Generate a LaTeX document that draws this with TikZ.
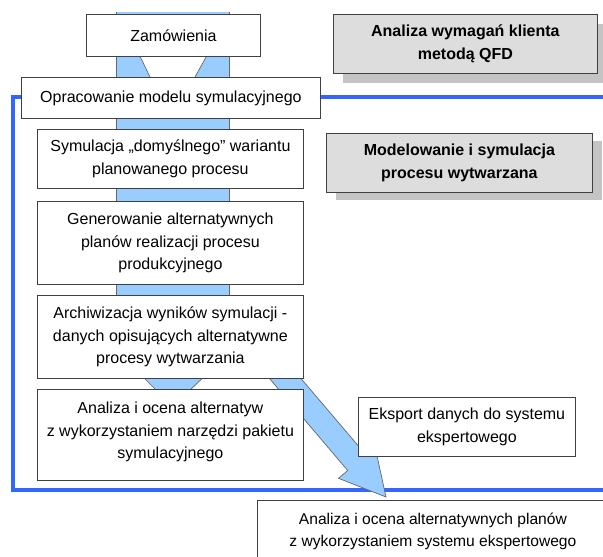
\documentclass[tikz,border=0pt]{standalone}
\usepackage{fontspec}
\setmainfont{Liberation Sans}
\definecolor{bandblue}{HTML}{99CCFF}
\definecolor{frameblue}{HTML}{3366FF}
\definecolor{panelgray}{HTML}{DDDDDD}
\definecolor{shadowgray}{HTML}{C4C4C4}
\begin{document}
\begin{tikzpicture}[x=1pt,y=-1pt,
  stepbox/.style={draw=black!75, line width=0.8pt, fill=white, anchor=north west,
    inner sep=0pt, align=center, font=\fontsize{16}{22.5}\selectfont},
  panel/.style={stepbox, fill=panelgray, font=\fontsize{16}{22.5}\selectfont\bfseries},
  steptext/.style={anchor=north, inner sep=0pt, align=center, font=\fontsize{16}{22.5}\selectfont},
  frameline/.style={draw=frameblue, line width=3.6pt},
  bandfill/.style={fill=bandblue, draw=black!60, line width=0.7pt},
  bandedge/.style={draw=black!60, line width=0.7pt},
]
\useasboundingbox (0,0) rectangle (603,557);
\clip (0,0) rectangle (603,557);

% blue frame around the simulation stage
\coordinate (fTR) at (612,97);
\coordinate (fTL) at (13,97);
\coordinate (fBL) at (13,490);
\coordinate (fBR) at (612,490);
\draw[frameline] (fTR) -- (fTL) -- (fBL) -- (fBR);

% wide process band behind the step boxes (open top edge)
\coordinate (bTL) at (116,12);
\coordinate (bTR) at (229,12);
\coordinate (bBL) at (116,372);
\coordinate (bBR) at (229,372);
\fill[bandblue] (bTL) rectangle (bBR);
\draw[bandedge] (bTL) -- (bBL);
\draw[bandedge] (bTR) -- (bBR);
% notch below the order box
\coordinate (nTL) at (137,50);
\coordinate (nTR) at (210,50);
\coordinate (nBR) at (195,77);
\coordinate (nBL) at (150,77);
\fill[white] (nTL) -- (nTR) -- (nBR) -- (nBL) -- cycle;
\draw[bandedge] (nTL) -- (nBL);
\draw[bandedge] (nTR) -- (nBR);
% narrowing neck into the last simulation step
\coordinate (kTL) at (136,370);
\coordinate (kTR) at (211,370);
\coordinate (kBR) at (188,392);
\coordinate (kBL) at (158,392);
\filldraw[bandfill] (kTL) -- (kTR) -- (kBR) -- (kBL) -- cycle;

% diagonal arrow towards the expert-system analysis
\coordinate (aS1) at (278.6,352.2);
\coordinate (aB1) at (366.0,454.9);
\coordinate (aH1) at (375.1,447.1);
\coordinate (aT)  at (386,497);
\coordinate (aH2) at (338.5,478.3);
\coordinate (aB2) at (347.7,470.5);
\coordinate (aS2) at (260.4,367.8);
\filldraw[bandfill, line join=miter] (aS1) -- (aB1) -- (aH1) -- (aT) -- (aH2) -- (aB2) -- (aS2) -- cycle;

% step boxes
\node[stepbox, minimum width=174pt, minimum height=42pt] (zam) at (86,14) {Zamówienia};
\node[stepbox, minimum width=299pt, minimum height=41pt] (opr) at (21,77) {Opracowanie modelu symulacyjnego};
\node[stepbox, minimum width=266pt, minimum height=59pt] (sym) at (37,129)
  {Symulacja „domyślnego” wariantu\\planowanego procesu};
\node[stepbox, minimum width=266pt, minimum height=83pt] (gen) at (37,201)
  {Generowanie alternatywnych\\planów realizacji procesu\\produkcyjnego};
\node[stepbox, minimum width=266pt, minimum height=83pt] (arc) at (37,295)
  {Archiwizacja wyników symulacji -\\danych opisujących alternatywne\\procesy wytwarzania};
\node[stepbox, minimum width=266pt, minimum height=91pt] (ana) at (37,389) {};
\node[steptext] (anat) at ([yshift=-13pt]ana.north)
  {Analiza i ocena alternatyw\\z wykorzystaniem narzędzi pakietu\\symulacyjnego};
\node[stepbox, minimum width=217pt, minimum height=59pt] (eks) at (358,397)
  {Eksport danych do systemu\\ekspertowego};
\node[stepbox, minimum width=360pt, minimum height=70pt] (fin) at (257,500) {};
\node[steptext, font=\fontsize{15.6}{22}\selectfont] (fint) at ([yshift=-13pt,xshift=-4.5pt]fin.north)
  {Analiza i ocena alternatywnych planów\\z wykorzystaniem systemu ekspertowego};

% stage panels with drop shadows
\fill[shadowgray] (343,24) rectangle (607,83);
\node[panel, minimum width=264pt, minimum height=59pt] (qfd) at (333,14)
  {Analiza wymagań klienta\\metodą QFD};
\fill[shadowgray] (336,141) rectangle (602,200);
\node[panel, minimum width=266pt, minimum height=59pt] (mod) at (326,133)
  {Modelowanie i symulacja\\procesu wytwarzana};
\end{tikzpicture}
\end{document}
